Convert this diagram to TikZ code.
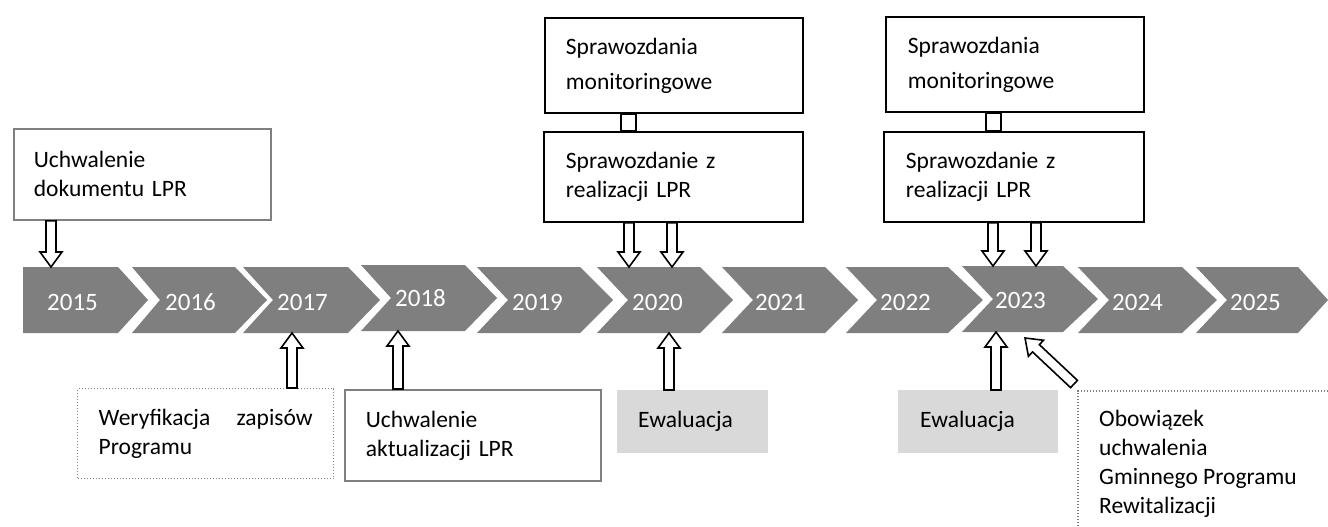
\documentclass[tikz,border=0pt]{standalone}
\usepackage{fontspec}
\setmainfont{Carlito}
\usetikzlibrary{calc}
\definecolor{chev}{HTML}{7F7F7F}
\definecolor{evl}{HTML}{D9D9D9}
\definecolor{bgray}{HTML}{808080}
\tikzset{
  chevron/.style={fill=chev, draw=none},
  yearlbl/.style={text=white, font=\fontsize{25}{30}\selectfont, anchor=west, inner sep=0pt},
  txtbox/.style={anchor=north west, align=left, inner ysep=0pt, font=\fontsize{23.5}{29}\selectfont, text=black},
  graybox/.style={txtbox, draw=bgray, line width=1.8pt, fill=white},
  blackbox/.style={txtbox, draw=black, line width=1.8pt, fill=white},
  dotbox/.style={txtbox, draw=bgray, line width=1.4pt, dash pattern=on 1.2pt off 1.8pt},
  evalbox/.style={txtbox, fill=evl, draw=none},
  dotline/.style={draw=bgray, line width=1.4pt, dash pattern=on 1.2pt off 1.8pt},
  barrow/.style={draw=black, fill=white, line width=1.6pt, line join=miter},
  link/.style={draw=black, fill=white, line width=1.6pt}
}
\newcommand\blkarr[2]{%
  \draw[barrow] let \p1=(#1), \p2=(#2),
      \n1={atan2(\y2-\y1,\x2-\x1)}, \n2={veclen(\x2-\x1,\y2-\y1)}, \n3={\n2-15pt} in
    [shift={(\p1)}, rotate=\n1]
    (0pt,5pt) -- (\n3,5pt) -- (\n3,11pt) -- (\n2,0pt) -- (\n3,-11pt)
    -- (\n3,-5pt) -- (0pt,-5pt) -- cycle;}
\begin{document}
\begin{tikzpicture}[x=1pt, y=-1pt]
\useasboundingbox (0,0) rectangle (1328,527);

% ---- chevrons ----
\fill[chevron] (23,267) -- (118,267) -- (148,300) -- (118,333) -- (23,333) -- cycle;
\foreach \L/\R/\T/\N/\d in {132/235/267/28/0, 243/348/380/30/0, 361/465/497/30/-2,
   477/580/613/31/0, 597/700/733/31/0, 722/825/858/31/0, 846/948/983/31/0,
   962/1063/1098/31/-1, 1078/1182/1217/31/0, 1196/1298/1328/31/0}{
  \fill[chevron] (\L,267+\d) -- (\R,267+\d) -- (\T,300+\d) -- (\R,333+\d)
     -- (\L,333+\d) -- (\L+\N,300+\d) -- cycle;
}
\node[yearlbl] (y2015) at (47,302) {2015};
\node[yearlbl] (y2016) at (165,302) {2016};
\node[yearlbl] (y2017) at (277,302) {2017};
\node[yearlbl] (y2018) at (395,298) {2018};
\node[yearlbl] (y2019) at (512,302) {2019};
\node[yearlbl] (y2020) at (632,302) {2020};
\node[yearlbl] (y2021) at (755,302) {2021};
\node[yearlbl] (y2022) at (880,302) {2022};
\node[yearlbl] (y2023) at (995,300) {2023};
\node[yearlbl] (y2024) at (1112,302) {2024};
\node[yearlbl] (y2025) at (1230,302) {2025};

% arrow end points on the chevrons
\coordinate (t2015) at (51,267);
\coordinate (t2020a) at (629,267);
\coordinate (t2020b) at (672,267);
\coordinate (t2023a) at (993,266);
\coordinate (t2023b) at (1036,266);
\coordinate (b2017) at (292,333);
\coordinate (b2018) at (398,331);
\coordinate (b2020) at (669,333);
\coordinate (b2023) at (996,332);
\coordinate (dtip) at (1025,338);

% ---- boxes above ----
\node[graybox, inner xsep=20pt, text width=217pt, minimum height=91pt] (A) at (13,128)
  {Uchwalenie\\dokumentu LPR};
\node[blackbox, inner xsep=21pt, text width=216pt, minimum height=95pt,
  font=\fontsize{23.5}{35}\selectfont] (M1) at (544,17) {Sprawozdania\\monitoringowe};
\node[blackbox, inner xsep=22pt, text width=215pt, minimum height=90pt] (R1) at (543,131)
  {Sprawozdanie z\\realizacji LPR};
\node[blackbox, inner xsep=22pt, text width=214pt, minimum height=95pt,
  font=\fontsize{23.5}{35}\selectfont] (M2) at (885,16) {Sprawozdania\\monitoringowe};
\node[blackbox, inner xsep=22pt, text width=216pt, minimum height=90pt] (R2) at (883,131)
  {Sprawozdanie z\\realizacji LPR};

\draw[link] ($(M1.south west)+(77,0)$) rectangle ($(R1.north west)+(93,0)$);
\draw[link] ($(M2.south west)+(101,0)$) rectangle ($(R2.north west)+(118,0)$);

% ---- boxes below ----
\node[dotbox, inner xsep=21pt, text width=214pt, minimum height=90pt] (W) at (77,388)
  {Weryfikacja\hfill zapisów\\Programu};
\node[graybox, inner xsep=21pt, text width=214pt, minimum height=91pt] (U) at (344,389)
  {Uchwalenie\\aktualizacji LPR};
\node[evalbox, inner xsep=21pt, text width=109pt, minimum height=63pt] (E1) at (617,390)
  {Ewaluacja};
\node[evalbox, inner xsep=22pt, text width=116pt, minimum height=63pt] (E2) at (898,390)
  {Ewaluacja};
\node[txtbox, inner xsep=21pt, inner ysep=0pt, font=\fontsize{23.5}{29}\selectfont]
  (O) at (1078,410) {Obowiązek\\uchwalenia\\Gminnego Programu\\Rewitalizacji};
\coordinate (ocorner) at (1078,391);
\coordinate (oright) at (1328,391);
\coordinate (obottom) at (1078,527);
\draw[dotline] (oright) -- (ocorner) -- (obottom);
\coordinate (dtail) at (1074,384);

% ---- block arrows ----
\blkarr{A.south -| t2015}{t2015}
\blkarr{R1.south -| t2020a}{t2020a}
\blkarr{R1.south -| t2020b}{t2020b}
\blkarr{R2.south -| t2023a}{t2023a}
\blkarr{R2.south -| t2023b}{t2023b}
\blkarr{W.north -| b2017}{b2017}
\blkarr{U.north -| b2018}{b2018}
\blkarr{E1.north -| b2020}{b2020}
\blkarr{E2.north -| b2023}{b2023}
\blkarr{dtail}{dtip}
\end{tikzpicture}
\end{document}
